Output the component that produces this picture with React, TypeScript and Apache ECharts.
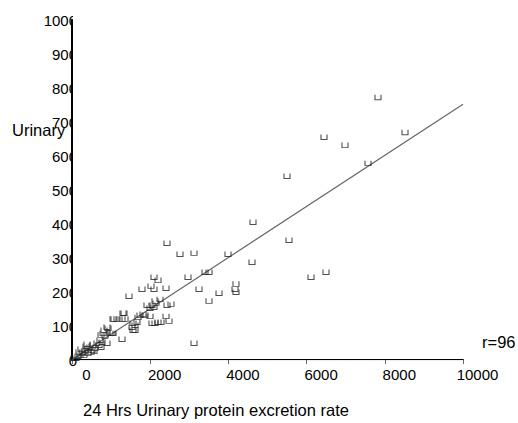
import React, { useEffect, useRef } from "react";
import * as echarts from "echarts";

const xTickLabels = ["0", "2000", "4000", "6000", "8000", "10000"];
const yTickLabels = ["0", "100", "200", "300", "400", "500", "600", "700", "800", "900", "1000"];

// 24 Hrs urinary protein excretion rate (x) vs urinary ratio (y)
const xValues = [
  7826, 8517, 6445, 6982, 7570, 5499, 4629, 5550, 4604, 6496, 6113,
  2430, 2762, 3120, 3990, 2097, 2200, 2967, 3402, 3504, 2020, 2097, 2404, 3248,
  4194, 4169, 4194, 3760, 3504, 2123, 2251, 2430, 2532, 2097, 1995, 2404, 2481,
  2200, 2276, 2046, 2123, 3120, 1458, 1790, 1074, 1330, 1279, 921,
  1918, 2046, 2148, 1739, 1816, 1688, 1304, 1356, 1151, 1049, 1560, 1535, 1611,
  1560, 1279, 895, 1023, 1049, 793, 742, 844, 895, 716, 767,
  639, 537, 460, 409, 512, 588, 332, 281, 256, 205, 153, 102, 51, 179, 358,
  691, 742, 307, 409, 486, 563, 384, 230, 818, 972, 1867, 1662, 1995, 1611,
];
const yValues = [
  773, 670, 656, 632, 579, 541, 406, 353, 288, 259, 244,
  344, 312, 315, 312, 244, 235, 244, 259, 259, 218, 209, 212, 209,
  224, 209, 200, 197, 174, 174, 179, 162, 165, 156, 129, 129, 115,
  112, 112, 109, 109, 50, 188, 209, 121, 138, 121, 94,
  162, 162, 168, 132, 135, 126, 138, 121, 121, 121, 109, 97, 88,
  88, 62, 97, 79, 79, 79, 74, 71, 50, 59, 53,
  50, 44, 38, 35, 29, 35, 29, 24, 21, 15, 12, 6, 6, 24, 41,
  44, 38, 15, 21, 24, 26, 47, 32, 88, 79, 132, 112, 153, 103,
];

// Fitted regression line endpoints (x, y)
const fitX = [0, 10000];
const fitY = [1, 752];

const FONT = "'Liberation Sans', Arial, sans-serif";

export default function App() {
  const ref = useRef<HTMLDivElement>(null);

  useEffect(() => {
    if (!ref.current) return;
    const chart = echarts.init(ref.current, undefined, { renderer: "svg" });
    const points = xValues.map((x, i) => [x, yValues[i]]);
    const fit = fitX.map((x, i) => [x, fitY[i]]);
    chart.setOption({
      animation: false,
      backgroundColor: "#ffffff",
      grid: { left: 72, top: 20, right: 55, bottom: 63 },
      xAxis: [
        {
          type: "value",
          min: 0,
          max: 10000,
          interval: 2000,
          position: "bottom",
          axisLine: { show: true, lineStyle: { color: "#000", width: 2 } },
          axisTick: { show: true, length: 4, lineStyle: { color: "#666" } },
          axisLabel: {
            margin: 7,
            fontSize: 15,
            color: "#000",
            fontFamily: FONT,
            padding: [0, 0, 0, 29],
            formatter: (v: number) => xTickLabels[Math.round(v / 2000)] ?? "",
          },
          splitLine: { show: false },
        },
        {
          type: "value",
          min: 0,
          max: 10000,
          interval: 2000,
          position: "top",
          axisLine: { show: true, lineStyle: { color: "#eeeeee", width: 1 } },
          axisTick: { show: false },
          axisLabel: { show: false },
          splitLine: { show: false },
        },
      ],
      yAxis: [
        {
          type: "value",
          min: 0,
          max: 1000,
          interval: 100,
          position: "left",
          axisLine: { show: true, lineStyle: { color: "#000", width: 2 } },
          axisTick: { show: false },
          axisLabel: {
            margin: -5,
            fontSize: 15,
            color: "#000",
            fontFamily: FONT,
            padding: [4, 0, 0, 0],
            formatter: (v: number) => yTickLabels[Math.round(v / 100)] ?? "",
          },
          splitLine: { show: false },
        },
        {
          type: "value",
          min: 0,
          max: 1000,
          interval: 100,
          position: "right",
          axisLine: { show: true, lineStyle: { color: "#000", width: 2 } },
          axisTick: { show: false },
          axisLabel: { show: false },
          splitLine: { show: false },
        },
      ],
      graphic: [
        {
          type: "rect",
          z: 1,
          shape: { x: 73, y: 10, width: 7, height: 347 },
          style: { fill: "#ffffff" },
        },
        {
          type: "text",
          left: 12,
          top: 121,
          z: 5,
          style: { text: "Urinary", fill: "#000", font: `16.5px ${FONT}` },
        },
        {
          type: "text",
          left: 482,
          top: 333,
          style: { text: "r=96", fill: "#000", font: `16.5px ${FONT}` },
        },
        {
          type: "text",
          left: 83,
          top: 401,
          style: { text: "24 Hrs Urinary protein excretion rate", fill: "#000", font: `16.5px ${FONT}` },
        },
      ],
      series: [
        {
          type: "line",
          data: fit,
          showSymbol: false,
          symbol: "none",
          lineStyle: { color: "#666", width: 1.2 },
          z: 2,
        },
        {
          type: "scatter",
          data: points,
          symbol: "path://M0,0L0,10L10,10L10,0",
          symbolSize: [6, 5],
          itemStyle: { color: "transparent", borderColor: "#222", borderWidth: 1 },
          z: 3,
        },
      ],
    });
    return () => chart.dispose();
  }, []);

  return (
    <div
      ref={ref}
      style={{ position: "fixed", left: 0, top: 0, width: 518, height: 423 }}
    />
  );
}
